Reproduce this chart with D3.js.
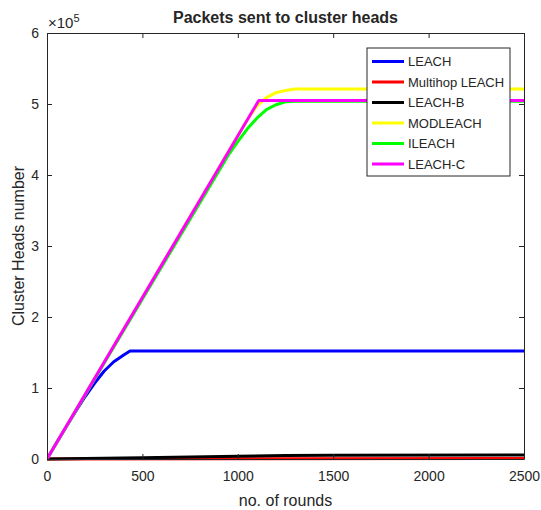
<!DOCTYPE html>
<html>
<head>
<meta charset="utf-8">
<script src="https://cdn.jsdelivr.net/npm/d3@7"></script>
<style>
  body { margin: 0; background: #fff; }
  text { font-family: "Liberation Sans", Arial, sans-serif; fill: #262626; }
</style>
</head>
<body>
<div id="chart"></div>
<script>
// series names and colours, in drawing order
const seriesNames = ["LEACH", "Multihop LEACH", "LEACH-B", "MODLEACH", "ILEACH", "LEACH-C"];
const seriesColors = ["#0000ff", "#ff0000", "#000000", "#ffff00", "#00ff00", "#ff00ff"];

// values: [round, packets in units of 1e5]
const leach = [[0, 0], [50, 0.23], [100, 0.45], [150, 0.67], [200, 0.88], [250, 1.07], [300, 1.24], [350, 1.37], [400, 1.46], [435, 1.52], [2500, 1.52]];
const multihop = [[0, 0], [1000, 0.003], [2500, 0.006]];
const leachB = [[0, 0], [500, 0.016], [1000, 0.04], [1250, 0.05], [1500, 0.054], [2500, 0.056]];
const modleach = [[0, 0], [1050, 4.78], [1100, 4.97], [1150, 5.09], [1200, 5.16], [1250, 5.19], [1300, 5.21], [2500, 5.21]];
const ileach = [[0, 0], [950, 4.28], [1000, 4.47], [1050, 4.65], [1100, 4.8], [1150, 4.92], [1200, 4.99], [1250, 5.03], [1300, 5.04], [2500, 5.04]];
const leachC = [[0, 0], [1110, 5.05], [2500, 5.05]];

const seriesValues = [leach, multihop, leachB, modleach, ileach, leachC];

const xTicks = [0, 500, 1000, 1500, 2000, 2500];
const yTicks = [0, 1, 2, 3, 4, 5, 6];

let svgWidth = 541;
let svgHeight = 510;

let margin = { top: 33, right: 17, bottom: 51, left: 47 };
let width = svgWidth - margin.left - margin.right;
let height = svgHeight - margin.top - margin.bottom;

let svg = d3.select("#chart")
    .append("svg")
    .attr("width", svgWidth)
    .attr("height", svgHeight);

let g = svg.append("g")
    .attr("transform", `translate(${margin.left}, ${margin.top})`);

// scales
let x = d3.scaleLinear().domain([0, 2500]).range([0, width]);
let y = d3.scaleLinear().domain([0, 6]).range([height, 0]);

// lines
let line = d3.line()
    .x(d => x(d[0]))
    .y(d => y(d[1]));

g.append("clipPath").attr("id", "plotclip")
    .append("rect").attr("x", 0).attr("y", -2).attr("width", width).attr("height", height + 4);

g.append("g").attr("clip-path", "url(#plotclip)")
    .selectAll("path")
    .data(seriesValues)
    .join("path")
    .attr("d", line)
    .attr("fill", "none")
    .attr("stroke", (d, i) => seriesColors[i])
    .attr("stroke-width", 3)
    .attr("stroke-linejoin", "round");

// axes with inward ticks, MATLAB style box
function styleAxis(sel) {
    sel.select(".domain").attr("stroke", "#262626");
    sel.selectAll(".tick line").attr("stroke", "#262626");
    sel.selectAll("text").style("font-size", "14px").attr("fill", "#262626");
}

let fmt = d3.format("d");

g.append("g")
    .attr("transform", `translate(0, ${height})`)
    .call(d3.axisBottom(x).tickValues(xTicks).tickFormat(fmt).tickSizeInner(-5).tickSizeOuter(0).tickPadding(12))
    .call(styleAxis);

g.append("g")
    .call(d3.axisLeft(y).tickValues(yTicks).tickFormat(fmt).tickSizeInner(-5).tickSizeOuter(0).tickPadding(8))
    .call(styleAxis);

g.append("g")
    .call(d3.axisTop(x).tickValues(xTicks).tickSizeInner(-5).tickSizeOuter(0).tickFormat(""))
    .call(styleAxis);

g.append("g")
    .attr("transform", `translate(${width}, 0)`)
    .call(d3.axisRight(y).tickValues(yTicks).tickSizeInner(-5).tickSizeOuter(0).tickFormat(""))
    .call(styleAxis);

// exponent label
let expo = g.append("text")
    .attr("x", 1)
    .attr("y", -5)
    .style("font-size", "15px");
expo.append("tspan").text("\u00d710");
expo.append("tspan").attr("dy", -6).style("font-size", "11px").text("5");

// title
svg.append("text")
    .attr("x", margin.left + width / 2)
    .attr("y", 23)
    .attr("text-anchor", "middle")
    .style("font-size", "16px")
    .style("font-weight", "bold")
    .attr("fill", "#000")
    .text("Packets sent to cluster heads");

// axis labels
svg.append("text")
    .attr("x", margin.left + width / 2)
    .attr("y", 506)
    .attr("text-anchor", "middle")
    .style("font-size", "16px")
    .text("no. of rounds");

svg.append("text")
    .attr("transform", `translate(24, ${margin.top + height / 2}) rotate(-90)`)
    .attr("text-anchor", "middle")
    .style("font-size", "16px")
    .text("Cluster Heads number");

// legend
let legend = svg.append("g").attr("transform", "translate(367, 48)");
legend.append("rect")
    .attr("width", 143)
    .attr("height", 128)
    .attr("fill", "#fff")
    .attr("stroke", "#262626")
    .attr("stroke-width", 1);

let items = legend.selectAll("g.item")
    .data(seriesNames)
    .join("g")
    .attr("class", "item")
    .attr("transform", (d, i) => `translate(0, ${13.5 + i * 20.5})`);

items.append("line")
    .attr("x1", 5).attr("x2", 37)
    .attr("stroke", (d, i) => seriesColors[i])
    .attr("stroke-width", 3);

items.append("text")
    .attr("x", 41)
    .attr("dy", "0.35em")
    .style("font-size", "13px")
    .attr("fill", "#000")
    .text(d => d);
</script>
</body>
</html>
